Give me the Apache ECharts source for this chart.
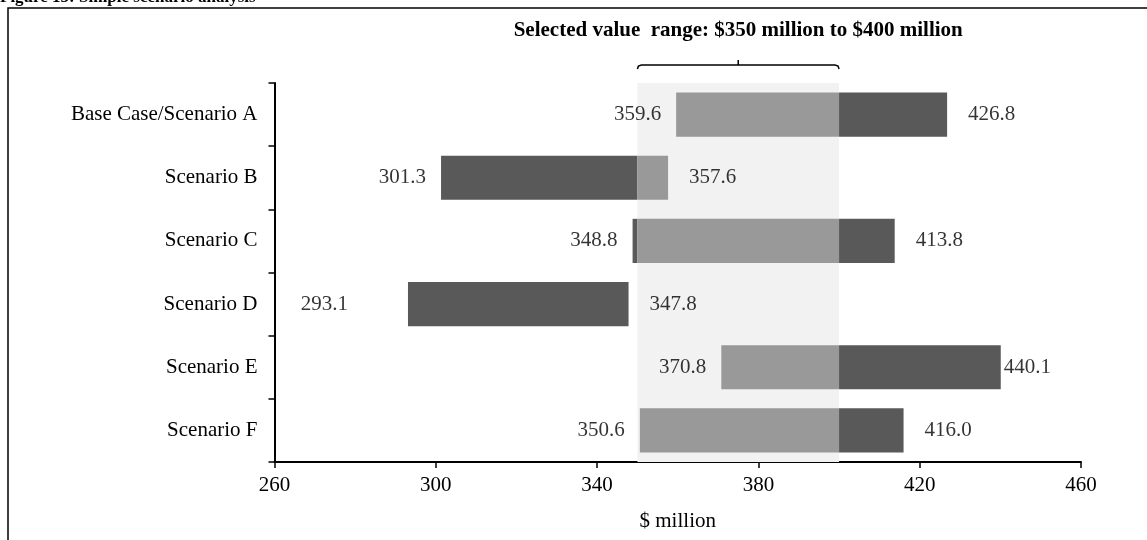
<!DOCTYPE html>
<html><head><meta charset="utf-8">
<script src="https://cdn.jsdelivr.net/npm/echarts@6/dist/echarts.min.js"></script>
<style>html,body{margin:0;padding:0;background:#fff}#c{width:1147px;height:540px}</style>
</head><body><div id="c"></div>
<script>
var categories = ['Base Case/Scenario A','Scenario B','Scenario C','Scenario D','Scenario E','Scenario F'];
var lowValues  = [359.6, 301.3, 348.8, 293.1, 370.8, 350.6];
var highValues = [426.8, 357.6, 413.8, 347.8, 440.1, 416.0];
var rangeLow = 350, rangeHigh = 400;
var xTicks = {min: 260, max: 460, interval: 40};
var captionText = 'Figure 15: Simple scenario analysis';
var rangeTitle = 'Selected value  range: $350 million to $400 million';
var axisName = '$ million';

var FONT = '"Liberation Serif", "Times New Roman", serif';
var FS = 21;
var DARK = '#595959', LIGHT = '#999999', BAND = '#f2f2f2';

var base = [], darkL = [], light = [], darkR = [];
for (var i = 0; i < categories.length; i++) {
  var lo = lowValues[i], hi = highValues[i];
  var dl = lo < rangeLow ? Math.min(hi, rangeLow) - lo : 0;
  var ls = Math.max(lo, rangeLow), le = Math.min(hi, rangeHigh);
  var lt = le > ls ? le - ls : 0;
  var dr = hi > rangeHigh ? hi - Math.max(lo, rangeHigh) : 0;
  base.push(lo); darkL.push(dl); light.push(lt); darkR.push(dr);
}
// label gaps (px) as placed in the original figure
var lowGap = {3: 60};
var highGap = {4: 3};
var lowLabelPts = lowValues.map(function (v, i) {
  var item = {value: [v, categories[i]]};
  if (lowGap[i] != null) item.label = {distance: lowGap[i]};
  return item;
});
var highLabelPts = highValues.map(function (v, i) {
  var item = {value: [v, categories[i]]};
  if (highGap[i] != null) item.label = {distance: highGap[i]};
  return item;
});

var chart = echarts.init(document.getElementById('c'), null, {renderer: 'canvas'});
var labelStyle = {color: '#000', fontFamily: FONT, fontSize: FS};
var option = {
  animation: false,
  backgroundColor: '#fff',
  grid: {left: 274.5, right: 66, top: 83, bottom: 78, containLabel: false},
  xAxis: {
    type: 'value', min: xTicks.min, max: xTicks.max, interval: xTicks.interval,
    axisLine: {show: true, lineStyle: {color: '#000', width: 2}},
    axisTick: {show: true, length: 6, lineStyle: {color: '#000', width: 1.5}},
    axisLabel: {color: '#000', fontFamily: FONT, fontSize: FS, margin: 13},
    splitLine: {show: false},
    name: axisName, nameLocation: 'middle', nameGap: 49,
    nameTextStyle: {color: '#000', fontFamily: FONT, fontSize: FS}
  },
  yAxis: {
    type: 'category', data: categories, inverse: true,
    axisLine: {show: true, lineStyle: {color: '#000', width: 2}},
    axisTick: {show: true, length: 6, alignWithLabel: false, lineStyle: {color: '#000', width: 1.5}},
    axisLabel: {color: '#000', fontFamily: FONT, fontSize: FS, margin: 17}
  },
  series: [
    {type: 'bar', stack: 's', data: base, barWidth: '70%', itemStyle: {color: 'rgba(0,0,0,0)'},
     silent: true, z: 2,
     markArea: {silent: true, itemStyle: {color: BAND}, data: [[{xAxis: rangeLow}, {xAxis: rangeHigh}]]}},
    {type: 'bar', stack: 's', data: darkL, barWidth: '70%', itemStyle: {color: DARK}, z: 3},
    {type: 'bar', stack: 's', data: light, barWidth: '70%', itemStyle: {color: LIGHT}, z: 3},
    {type: 'bar', stack: 's', data: darkR, barWidth: '70%', itemStyle: {color: DARK}, z: 3},
    {type: 'scatter', data: lowLabelPts, symbolSize: 0, z: 5,
     label: Object.assign({show: true, position: 'left', distance: 15, formatter: function (p) { return p.value[0].toFixed(1); }}, labelStyle)},
    {type: 'scatter', data: highLabelPts, symbolSize: 0, z: 5,
     label: Object.assign({show: true, position: 'right', distance: 21, formatter: function (p) { return p.value[0].toFixed(1); }}, labelStyle)}
  ]
};
chart.setOption(option);

var xl = chart.convertToPixel({xAxisIndex: 0}, rangeLow);
var xh = chart.convertToPixel({xAxisIndex: 0}, rangeHigh);
var xm = (xl + xh) / 2;
var by = 65;
chart.setOption({
  graphic: [
    {type: 'rect', shape: {x: 8, y: 8, width: 1160, height: 560}, style: {fill: 'none', stroke: '#000', lineWidth: 1.5}, silent: true},
    {type: 'text', x: 0, y: -11, style: {text: captionText, font: 'bold 17px ' + FONT, fill: '#000', textVerticalAlign: 'top'}},
    {type: 'text', x: xm, y: 31, style: {text: rangeTitle, font: 'bold ' + FS + 'px ' + FONT, fill: '#000', textAlign: 'center', textVerticalAlign: 'middle'}},
    {type: 'polyline', shape: {points: [[xl, by + 4], [xl + 1, by + 1], [xl + 4, by], [xh - 4, by], [xh - 1, by + 1], [xh, by + 4]]},
     style: {fill: 'none', stroke: '#000', lineWidth: 1.5}},
    {type: 'line', shape: {x1: xm, y1: by, x2: xm, y2: by - 5}, style: {stroke: '#000', lineWidth: 1.5}}
  ]
});
</script></body></html>
